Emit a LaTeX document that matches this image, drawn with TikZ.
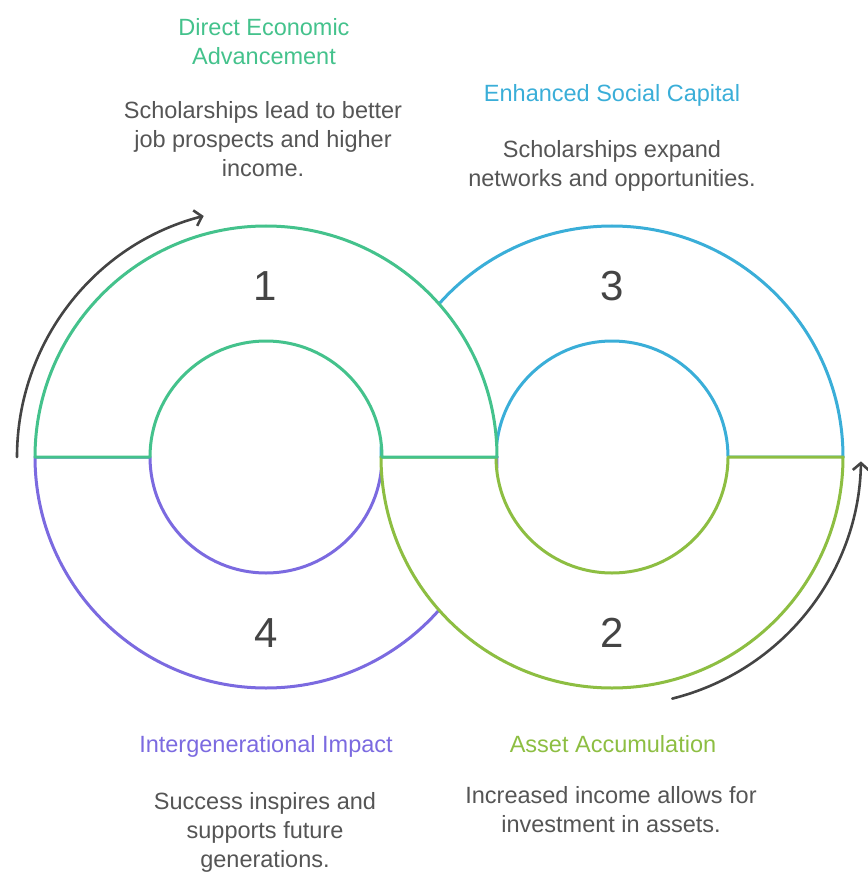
\documentclass[tikz,border=0pt]{standalone}
\usepackage{fontspec}
\setmainfont{Liberation Sans}
\usetikzlibrary{arrows.meta,calc}
\definecolor{cgreen}{HTML}{44C28C}
\definecolor{cblue}{HTML}{3AAED8}
\definecolor{cpurple}{HTML}{7B6AE0}
\definecolor{colive}{HTML}{8DBE42}
\definecolor{ctext}{HTML}{555555}
\definecolor{cnum}{HTML}{444444}
\definecolor{carrow}{HTML}{444444}
\begin{document}
\begin{tikzpicture}[x=1pt,y=1pt,
  ring/.style={line width=3pt, fill=white, line join=round},
  title/.style={font=\fontsize{23.5}{29}\selectfont, align=center, anchor=base, inner sep=0pt},
  body/.style={font=\fontsize{23.5}{29}\selectfont, text=ctext, align=center, anchor=base, inner sep=0pt},
  num/.style={font=\fontsize{42}{42}\selectfont, text=cnum, inner sep=0pt},
  cyc/.style={line width=2.6pt, draw=carrow, line cap=round, -{Straight Barb[length=7pt,width=16pt,line width=2.6pt]}}
]
\useasboundingbox (0,0) rectangle (867,-874);
\coordinate (c1) at (266,-457);
\coordinate (c2) at (612,-457);
% segment 3 (blue, top right)
\draw[ring, draw=cblue] (381,-457) arc[start angle=180, end angle=0, radius=231] -- (728,-457) arc[start angle=0, end angle=180, radius=116] -- cycle;
% segment 4 (purple, bottom left)
\draw[ring, draw=cpurple] (35,-457) arc[start angle=180, end angle=360, radius=231] -- (382,-457) arc[start angle=360, end angle=180, radius=116] -- cycle;
% segment 2 (olive, bottom right)
\draw[ring, draw=colive] (381,-457) arc[start angle=180, end angle=360, radius=231] -- (728,-457) arc[start angle=360, end angle=180, radius=116] -- cycle;
% segment 1 (green, top left)
\draw[ring, draw=cgreen] (35,-457) arc[start angle=180, end angle=0, radius=231] -- (382,-457) arc[start angle=0, end angle=180, radius=116] -- cycle;
% numbers
\node[num] (n1) at (265,-286) {1};
\node[num] (n3) at (612,-286) {3};
\node[num] (n4) at (266,-633) {4};
\node[num] (n2) at (612,-633) {2};
% cycle arrows
\draw[cyc] (17,-457) arc[start angle=180, end angle=104.5, radius=249];
\draw[cyc] ($(c2)+(-76:249)$) arc[start angle=-76, end angle=-1, radius=249];
% texts (anchor=base is the baseline of the last line)
\node[title, text=cgreen] (t1) at (264,-65) {Direct Economic\\Advancement};
\node[body] (b1) at (263,-177) {Scholarships lead to better\\job prospects and higher\\income.};
\node[title, text=cblue] (t3) at (612,-102) {Enhanced Social Capital};
\node[body] (b3) at (612,-187) {Scholarships expand\\networks and opportunities.};
\node[title, text=cpurple] (t4) at (266,-752) {Intergenerational Impact};
\node[body] (b4) at (265,-867) {Success inspires and\\supports future\\generations.};
\node[title, text=colive] (t2) at (613,-752) {Asset Accumulation};
\node[body] (b2) at (611,-832) {Increased income allows for\\investment in assets.};
\end{tikzpicture}
\end{document}
